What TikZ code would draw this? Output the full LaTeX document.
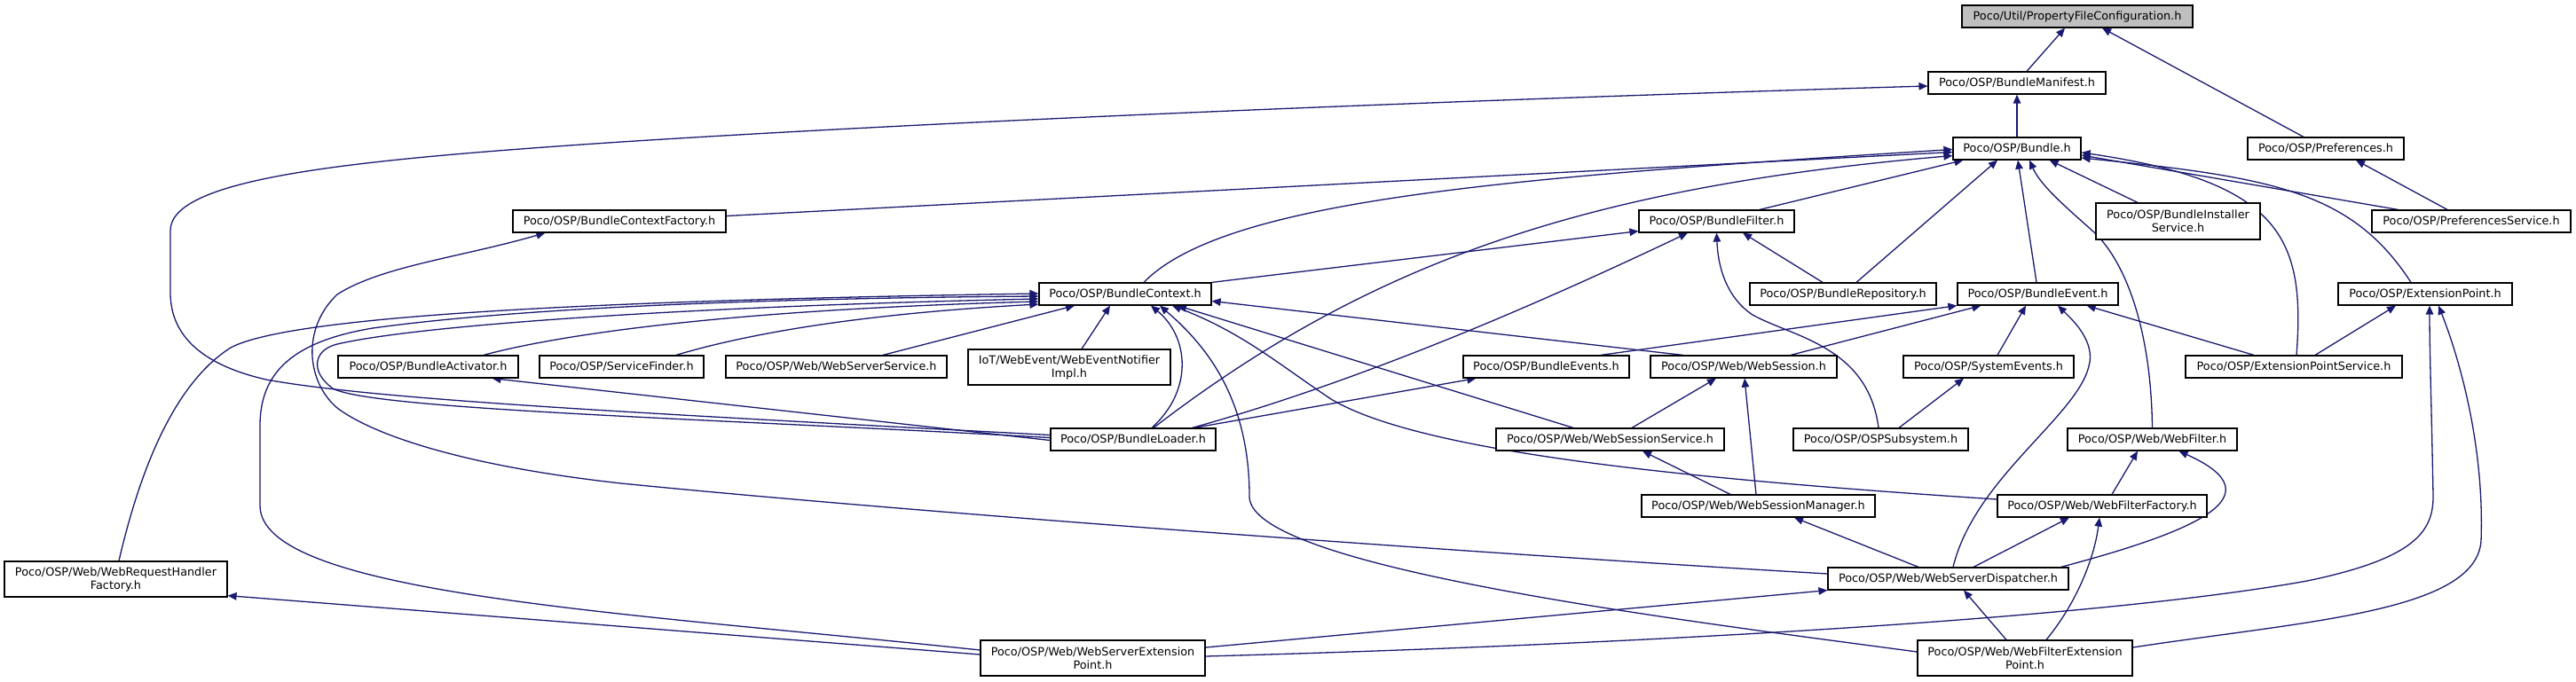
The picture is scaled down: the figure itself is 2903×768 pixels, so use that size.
\documentclass[tikz,border=0pt]{standalone}
\usepackage{fontspec}
\newfontfamily\dvs{DejaVu Sans}
\usetikzlibrary{arrows.meta,calc}
\definecolor{edgeblue}{HTML}{191970}
\definecolor{rootgray}{HTML}{BFBFBF}
\pgfdeclarelayer{background}
\pgfsetlayers{background,main}
\tikzset{
  box/.style={draw=black, line width=1.2pt, fill=white, inner sep=0pt, align=center,
    font=\dvs\fontsize{12.8}{15}\selectfont, text=black, minimum height=25pt},
  tall/.style={minimum height=40pt},
  edge/.style={draw=edgeblue, line width=1.3pt, -{Triangle[length=10pt,width=8.5pt]}},
}
\begin{document}
\begin{tikzpicture}[x=1pt,y=-1pt]
\useasboundingbox (0,0) rectangle (2903,768);

% nodes
\node[box, fill=rootgray, minimum width=260pt] (pfc) at (2341,18.5) {Poco/Util/PropertyFileConfiguration.h};
\node[box, minimum width=200pt] (bm) at (2273,93.5) {Poco/OSP/BundleManifest.h};
\node[box, minimum width=144pt] (bundle) at (2273,167.5) {Poco/OSP/Bundle.h};
\node[box, minimum width=176pt] (prefs) at (2621,167.5) {Poco/OSP/Preferences.h};
\node[box, minimum width=240pt] (bcf) at (698,249.5) {Poco/OSP/BundleContextFactory.h};
\node[box, minimum width=175pt] (bf) at (1934.5,249.5) {Poco/OSP/BundleFilter.h};
\node[box, tall, minimum width=185pt, minimum height=41pt] (bis) at (2454.5,249.5) {Poco/OSP/BundleInstaller\\Service.h};
\node[box, minimum width=224pt] (ps) at (2785,249.5) {Poco/OSP/PreferencesService.h};
\node[box, minimum width=194pt] (bc) at (1268,331.5) {Poco/OSP/BundleContext.h};
\node[box, minimum width=210pt] (br) at (2077,331.5) {Poco/OSP/BundleRepository.h};
\node[box, minimum width=181pt] (be) at (2296.5,331.5) {Poco/OSP/BundleEvent.h};
\node[box, minimum width=196pt] (ep) at (2733,331.5) {Poco/OSP/ExtensionPoint.h};
\node[box, minimum width=203pt] (ba) at (482.5,413.5) {Poco/OSP/BundleActivator.h};
\node[box, minimum width=185pt] (sf) at (700.5,413.5) {Poco/OSP/ServiceFinder.h};
\node[box, minimum width=249pt] (wss) at (942.5,413.5) {Poco/OSP/Web/WebServerService.h};
\node[box, tall, minimum width=228pt] (iot) at (1205,414) {IoT/WebEvent/WebEventNotifier\\Impl.h};
\node[box, minimum width=187pt] (bes) at (1742.5,413.5) {Poco/OSP/BundleEvents.h};
\node[box, minimum width=210pt] (ws) at (1965,413.5) {Poco/OSP/Web/WebSession.h};
\node[box, minimum width=192pt] (se) at (2241,413.5) {Poco/OSP/SystemEvents.h};
\node[box, minimum width=244pt] (eps) at (2585,413.5) {Poco/OSP/ExtensionPointService.h};
\node[box, minimum width=186pt] (bl) at (1277,495.5) {Poco/OSP/BundleLoader.h};
\node[box, minimum width=257pt] (wsesvc) at (1814.5,495.5) {Poco/OSP/Web/WebSessionService.h};
\node[box, minimum width=197pt] (osps) at (2119.5,495.5) {Poco/OSP/OSPSubsystem.h};
\node[box, minimum width=191pt] (wf) at (2425.5,495.5) {Poco/OSP/Web/WebFilter.h};
\node[box, minimum width=263pt] (wsm) at (1981.5,570.5) {Poco/OSP/Web/WebSessionManager.h};
\node[box, minimum width=236pt] (wff) at (2369,570.5) {Poco/OSP/Web/WebFilterFactory.h};
\node[box, tall, minimum width=251pt] (wrhf) at (130.5,653) {Poco/OSP/Web/WebRequestHandler\\Factory.h};
\node[box, minimum width=271pt] (wsd) at (2195.5,652.5) {Poco/OSP/Web/WebServerDispatcher.h};
\node[box, tall, minimum width=253pt] (wsep) at (1231.5,742) {Poco/OSP/Web/WebServerExtension\\Point.h};
\node[box, tall, minimum width=242pt] (wfep) at (2282,742) {Poco/OSP/Web/WebFilterExtension\\Point.h};

\begin{pgfonlayer}{background}
\fill[white] (0,0) rectangle (2903,768);
\draw[edge] ($(bm.north)+(11,0)$) -- ($(pfc.south)+(-14,0)$);
\draw[edge] ($(prefs.north)+(-25,0)$) -- ($(pfc.south)+(28,0)$);
\draw[edge] (bundle.north) -- (bm.south);
\draw[edge] ($(bl.west)+(0,-5)$) .. controls (700,465) and (420,450) .. (300,428)
   .. controls (230,412) and (192,380) .. (192,330) -- (192,260)
   .. controls (192,200) and (400,180) .. (700,160)
   .. controls (1200,128) and (1900,105) .. ($(bm.west)+(0,3.5)$);
\draw[edge] ($(bcf.east)+(0,-6)$) -- ($(bundle.west)+(0,4)$);
\draw[edge] ($(bc.north)+(21,0)$) .. controls (1380,225) and (1700,200) .. ($(bundle.west)+(0,1)$);
\draw[edge] ($(bl.north)+(23,0)$) .. controls (1550,290) and (1800,210) .. ($(bundle.west)+(0,8)$);
\draw[edge] ($(bf.north)+(48.5,0)$) -- ($(bundle.south west)+(12,0)$);
\draw[edge] ($(br.north)+(15,0)$) -- ($(bundle.south)+(-22,0)$);
\draw[edge] ($(be.north)+(-1.5,0)$) -- ($(bundle.south)+(1,0)$);
\draw[edge] (wf.north) .. controls (2424,360) and (2390,290) .. (2360,262)
   .. controls (2330,235) and (2300,210) .. ($(bundle.south)+(14,0)$);
\draw[edge] ($(bis.north)+(-45.5,0)$) -- ($(bundle.south east)+(-36,0)$);
\draw[edge] ($(ps.north west)+(30,0)$) -- ($(bundle.east)+(0,7.5)$);
\draw[edge] ($(eps.north)+(3,0)$) .. controls (2598,270) and (2572,205) .. ($(bundle.east)+(0,4.5)$);
\draw[edge] ($(ep.north)+(-16,0)$) .. controls (2650,215) and (2560,200) .. ($(bundle.east)+(0,10.5)$);
\draw[edge] ($(ps.north)+(-27,0)$) -- ($(prefs.south)+(34,0)$);
\draw[edge] (bc.north east) -- ($(bf.south west)+(0,-2)$);
\draw[edge] ($(bl.north east)+(-27,0)$) .. controls (1550,425) and (1760,330) .. ($(bf.south)+(-32.5,0)$);
\draw[edge] ($(br.north)+(-23,0)$) -- ($(bf.south)+(29.5,0)$);
\draw[edge] ($(osps.north)+(-2.5,0)$) .. controls (2105,390) and (2020,380) .. (1975,355)
   .. controls (1945,335) and (1936,300) .. (bf.south);
\draw[edge] ($(wsd.west)+(0,-5.5)$) .. controls (1600,620) and (1000,575) .. (700,545)
   .. controls (520,525) and (420,490) .. (380,460)
   .. controls (345,430) and (340,370) .. (380,332)
   .. controls (430,300) and (520,290) .. ($(bcf.south west)+(37,0)$);
\draw[edge] ($(bl.west)+(0,1)$) -- ($(ba.south)+(72,0)$);
\draw[edge] ($(bl.north)+(21,0)$) .. controls (1345,440) and (1340,380) .. ($(bc.south)+(29,0)$);
\draw[edge] ($(bl.west)+(0,-2)$) .. controls (800,472) and (420,462) .. (375,438)
   .. controls (350,420) and (352,395) .. (380,388)
   .. controls (480,365) and (800,345) .. ($(bc.west)+(0,5.5)$);
\draw[edge] ($(wrhf.north)+(3.5,0)$) .. controls (160,520) and (200,430) .. (260,392)
   .. controls (320,360) and (600,340) .. ($(bc.west)+(0,-0.5)$);
\draw[edge] ($(wsep.west)+(0,-9)$) .. controls (700,690) and (293,670) .. (293,570) -- (293,480)
   .. controls (293,420) and (330,385) .. (420,370)
   .. controls (600,345) and (900,336) .. ($(bc.west)+(0,2.5)$);
\draw[edge] ($(ba.north)+(62.5,0)$) .. controls (620,380) and (800,350) .. ($(bc.west)+(0,8.5)$);
\draw[edge] ($(sf.north)+(61.5,0)$) .. controls (830,380) and (950,355) .. ($(bc.west)+(0,11.5)$);
\draw[edge] ($(wss.north)+(52.5,0)$) -- ($(bc.south)+(-57,0)$);
\draw[edge] ($(iot.north)+(14,0)$) -- ($(bc.south)+(-17,0)$);
\draw[edge] ($(wfep.west)+(0,-7)$) .. controls (1900,700) and (1408,640) .. (1408,560)
   .. controls (1408,450) and (1360,390) .. ($(bc.south)+(39,0)$);
\draw[edge] ($(wff.west)+(0,-7.5)$) .. controls (1900,540) and (1600,510) .. (1500,450)
   .. controls (1440,410) and (1400,375) .. ($(bc.south)+(53,0)$);
\draw[edge] ($(wsesvc.north)+(-41.5,0)$) -- ($(bc.south)+(59,0)$);
\draw[edge] ($(ws.north west)+(37,0)$) -- ($(bc.east)+(0,8)$);
\draw[edge] ($(bl.north east)+(-25,0)$) -- ($(bes.south west)+(15,0)$);
\draw[edge] ($(bes.north)+(61.5,0)$) -- (be.south west);
\draw[edge] ($(ws.north)+(53,0)$) -- ($(be.south west)+(27,0)$);
\draw[edge] ($(se.north)+(10,0)$) -- ($(be.south)+(-13.5,0)$);
\draw[edge] ($(wsd.north)+(5.5,0)$) .. controls (2225,540) and (2340,470) .. (2354,413)
   .. controls (2362,385) and (2335,360) .. ($(be.south)+(22.5,0)$);
\draw[edge] ($(eps.north)+(-45,0)$) -- ($(be.south east)+(-36,0)$);
\draw[edge] ($(eps.north)+(24,0)$) -- ($(ep.south)+(-33,0)$);
\draw[edge] ($(wsep.east)+(0,-2)$) .. controls (1800,728) and (2350,700) .. (2600,655)
   .. controls (2720,630) and (2742,600) .. (2742,560)
   .. controls (2740,450) and (2738,400) .. ($(ep.south)+(5,0)$);
\draw[edge] ($(wfep.east)+(0,-12)$) .. controls (2600,700) and (2790,690) .. (2796,610)
   .. controls (2800,500) and (2770,400) .. ($(ep.south)+(15,0)$);
\draw[edge] ($(wsep.west)+(0,-4)$) -- ($(wrhf.south east)+(0,-2)$);
\draw[edge] ($(wsep.east)+(0,-12)$) -- (wsd.south west);
\draw[edge] ($(wfep.north)+(-21,0)$) -- ($(wsd.south)+(17.5,0)$);
\draw[edge] ($(wfep.north)+(24,0)$) .. controls (2340,680) and (2360,630) .. ($(wff.south)+(-3,0)$);
\draw[edge] ($(wsd.north)+(-33.5,0)$) -- ($(wsm.south)+(40.5,0)$);
\draw[edge] ($(wsd.north)+(28.5,0)$) -- ($(wff.south)+(-37,0)$);
\draw[edge] ($(wsd.north east)+(-9,0)$) .. controls (2470,600) and (2570,560) .. ($(wf.south)+(30,0)$);
\draw[edge] ($(wff.north)+(11,0)$) -- ($(wf.south)+(-16.5,0)$);
\draw[edge] ($(wsm.north)+(-31.5,0)$) -- ($(wsesvc.south)+(36.5,0)$);
\draw[edge] ($(wsm.north)+(-2.5,0)$) -- ($(ws.south)+(1,0)$);
\draw[edge] ($(wsesvc.north)+(24.5,0)$) -- ($(ws.south)+(-31,0)$);
\draw[edge] ($(osps.north)+(20.5,0)$) -- ($(se.south)+(-28,0)$);
\end{pgfonlayer}
\end{tikzpicture}
\end{document}
